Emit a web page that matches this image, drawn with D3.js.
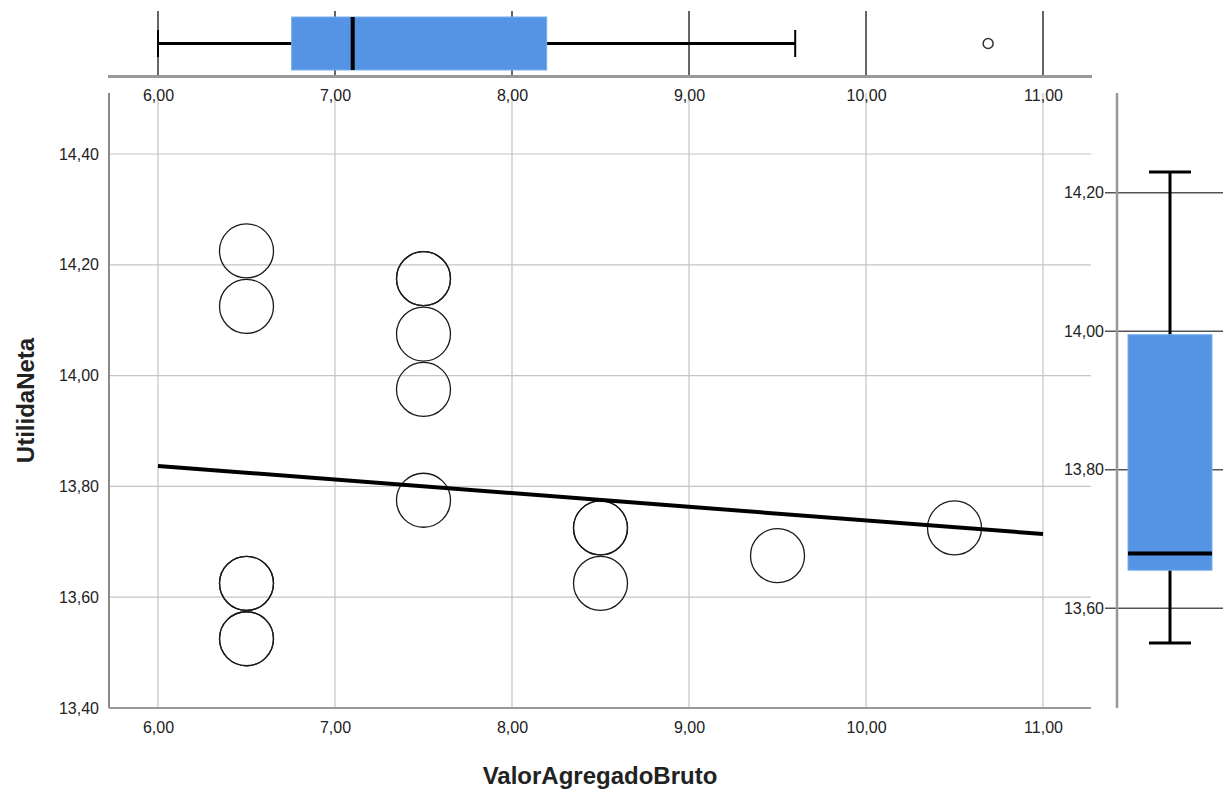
<!DOCTYPE html>
<html>
  <head>
    <meta http-equiv="Content-Type" content="text/html;charset=utf-8"/>
    <title>Scatter with marginal boxplots</title>
    <script src="https://d3js.org/d3.v7.min.js"></script>
    <style>
      body { margin: 0; background: #fff; }
      text { font-family: "Liberation Sans", Arial, sans-serif; }
    </style>
  </head>
  <body>
    <script type="text/javascript">

        // scatter points (ValorAgregadoBruto, UtilidaNeta)
        const xVals = [6.5, 6.5, 6.5, 6.5, 6.5, 6.5,
                       7.5, 7.5, 7.5, 7.5, 7.5,
                       8.5, 8.5, 8.5,
                       9.5, 10.5]
        const yVals = [14.225, 14.125, 13.625, 13.625, 13.525, 13.525,
                       14.175, 14.175, 14.075, 13.975, 13.775,
                       13.725, 13.725, 13.625,
                       13.675, 13.725]

        // fit line end points
        const fitX = [6, 11]
        const fitY = [13.837, 13.714]

        // boxplots: [whisker low, q1, median, q3, whisker high]
        const topBox = [6.0, 6.755, 7.1, 8.196, 9.6]
        const topOutliers = [10.69]
        const rightBox = [13.55, 13.655, 13.679, 13.995, 14.23]

        const xTicks = [6, 7, 8, 9, 10, 11]
        const yTicks = [13.4, 13.6, 13.8, 14.0, 14.2, 14.4]
        const rightTicks = [13.6, 13.8, 14.0, 14.2]

        const xTitle = 'ValorAgregadoBruto'
        const yTitle = 'UtilidaNeta'

        const width = 1223,
            height = 791

        const fmt = v => d3.format('.2f')(v).replace('.', ',')

        const svg = d3.select('body').append('svg')
            .attr('width', width)
            .attr('height', height)

        const plotL = 109, plotR = 1091, plotT = 93, plotB = 708

        const x = d3.scaleLinear().domain([6, 11]).range([158, 1043])
        const y = d3.scaleLinear().domain([13.4, 14.4]).range([708, 154])
        const yR = d3.scaleLinear().domain([13.6, 14.2]).range([608.3, 192.7])

        // ---- main plot grid
        svg.append('g').selectAll('line')
            .data(xTicks)
            .enter().append('line')
            .attr('x1', d => x(d)).attr('x2', d => x(d))
            .attr('y1', plotT).attr('y2', plotB)
            .attr('stroke', '#c4c4c4')
            .attr('stroke-width', 1.2)

        svg.append('g').selectAll('line')
            .data(yTicks.filter(d => d > 13.4))
            .enter().append('line')
            .attr('x1', plotL).attr('x2', plotR)
            .attr('y1', d => y(d)).attr('y2', d => y(d))
            .attr('stroke', '#c4c4c4')
            .attr('stroke-width', 1.2)

        // axis lines
        svg.append('line')
            .attr('x1', plotL).attr('x2', plotL)
            .attr('y1', plotT).attr('y2', plotB)
            .attr('stroke', '#8a8a8a').attr('stroke-width', 2)
        svg.append('line')
            .attr('x1', plotL).attr('x2', plotR)
            .attr('y1', plotB).attr('y2', plotB)
            .attr('stroke', '#999').attr('stroke-width', 2)

        // tick labels
        const xAxis = svg.append('g')
            .attr('transform', `translate(0,${plotB})`)
            .call(d3.axisBottom(x).tickValues(xTicks).tickFormat(fmt).tickSize(0).tickPadding(14))
        xAxis.select('.domain').remove()

        const yAxis = svg.append('g')
            .attr('transform', `translate(${plotL - 10},0)`)
            .call(d3.axisLeft(y).tickValues(yTicks).tickFormat(fmt).tickSize(0).tickPadding(0))
        yAxis.select('.domain').remove()

        svg.selectAll('.tick text')
            .style('font-size', '16px')
            .attr('fill', '#222')

        // points
        svg.append('g').selectAll('circle')
            .data(xVals.map((v, i) => [v, yVals[i]]))
            .enter().append('circle')
            .attr('cx', d => x(d[0]))
            .attr('cy', d => y(d[1]))
            .attr('r', 27)
            .attr('fill', 'none')
            .attr('stroke', '#1a1a1a')
            .attr('stroke-width', 1.3)

        // fit line
        svg.append('path')
            .datum(fitX.map((v, i) => [v, fitY[i]]))
            .attr('d', d3.line().x(d => x(d[0])).y(d => y(d[1])))
            .attr('stroke', '#000')
            .attr('stroke-width', 4)
            .attr('fill', 'none')

        // axis titles
        svg.append('text')
            .attr('x', (plotL + plotR) / 2)
            .attr('y', 784)
            .attr('text-anchor', 'middle')
            .style('font-size', '24px')
            .style('font-weight', 'bold')
            .attr('fill', '#222')
            .text(xTitle)

        svg.append('text')
            .attr('transform', `translate(34,${(plotT + plotB) / 2}) rotate(-90)`)
            .attr('text-anchor', 'middle')
            .style('font-size', '24px')
            .style('font-weight', 'bold')
            .attr('fill', '#222')
            .text(yTitle)

        // ---- top boxplot
        const topY = 43.5, topBoxT = 17, topBoxB = 70, baseY = 76.5

        svg.append('g').selectAll('line')
            .data(xTicks)
            .enter().append('line')
            .attr('x1', d => x(d)).attr('x2', d => x(d))
            .attr('y1', 11).attr('y2', baseY)
            .attr('stroke', '#333')
            .attr('stroke-width', 1.5)

        const topAxis = svg.append('g')
            .attr('transform', `translate(0,${baseY})`)
            .call(d3.axisBottom(x).tickValues(xTicks).tickFormat(fmt).tickSize(0).tickPadding(13))
        topAxis.select('.domain').remove()
        topAxis.selectAll('text').style('font-size', '16px').attr('fill', '#222')

        svg.append('line')
            .attr('x1', 108).attr('x2', 1092)
            .attr('y1', baseY).attr('y2', baseY)
            .attr('stroke', '#999').attr('stroke-width', 3)

        svg.append('line')
            .attr('x1', x(topBox[0])).attr('x2', x(topBox[4]))
            .attr('y1', topY).attr('y2', topY)
            .attr('stroke', '#000').attr('stroke-width', 3)
        svg.append('g').selectAll('line')
            .data([topBox[0], topBox[4]])
            .enter().append('line')
            .attr('x1', d => x(d)).attr('x2', d => x(d))
            .attr('y1', 30).attr('y2', 57)
            .attr('stroke', '#000').attr('stroke-width', 2)

        svg.append('rect')
            .attr('x', x(topBox[1]))
            .attr('y', topBoxT)
            .attr('width', x(topBox[3]) - x(topBox[1]))
            .attr('height', topBoxB - topBoxT)
            .attr('fill', '#5594e4')
            .attr('stroke', '#7aaeee')
            .attr('stroke-width', 1)
        svg.append('line')
            .attr('x1', x(topBox[2])).attr('x2', x(topBox[2]))
            .attr('y1', topBoxT).attr('y2', topBoxB)
            .attr('stroke', '#000').attr('stroke-width', 4)

        svg.append('g').selectAll('circle')
            .data(topOutliers)
            .enter().append('circle')
            .attr('cx', d => x(d)).attr('cy', topY)
            .attr('r', 5)
            .attr('fill', 'none')
            .attr('stroke', '#333')
            .attr('stroke-width', 1.5)

        // ---- right boxplot
        const rAxisX = 1117, rCx = 1170, rBoxW = 84, rCapW = 42

        svg.append('g').selectAll('line')
            .data(rightTicks)
            .enter().append('line')
            .attr('x1', 1105).attr('x2', 1223)
            .attr('y1', d => yR(d)).attr('y2', d => yR(d))
            .attr('stroke', '#555')
            .attr('stroke-width', 1.5)

        svg.append('line')
            .attr('x1', rAxisX).attr('x2', rAxisX)
            .attr('y1', plotT).attr('y2', plotB)
            .attr('stroke', '#999').attr('stroke-width', 2.5)

        const rAxis = svg.append('g')
            .attr('transform', `translate(1105,0)`)
            .call(d3.axisLeft(yR).tickValues(rightTicks).tickFormat(fmt).tickSize(0).tickPadding(1))
        rAxis.select('.domain').remove()
        rAxis.selectAll('text').style('font-size', '16px').attr('fill', '#222')

        svg.append('line')
            .attr('x1', rCx).attr('x2', rCx)
            .attr('y1', yR(rightBox[0])).attr('y2', yR(rightBox[4]))
            .attr('stroke', '#000').attr('stroke-width', 3)
        svg.append('g').selectAll('line')
            .data([rightBox[0], rightBox[4]])
            .enter().append('line')
            .attr('x1', rCx - rCapW / 2).attr('x2', rCx + rCapW / 2)
            .attr('y1', d => yR(d)).attr('y2', d => yR(d))
            .attr('stroke', '#000').attr('stroke-width', 3)

        svg.append('rect')
            .attr('x', rCx - rBoxW / 2)
            .attr('y', yR(rightBox[3]))
            .attr('width', rBoxW)
            .attr('height', yR(rightBox[1]) - yR(rightBox[3]))
            .attr('fill', '#5594e4')
            .attr('stroke', '#7aaeee')
            .attr('stroke-width', 1)
        svg.append('line')
            .attr('x1', rCx - rBoxW / 2).attr('x2', rCx + rBoxW / 2)
            .attr('y1', yR(rightBox[2])).attr('y2', yR(rightBox[2]))
            .attr('stroke', '#000').attr('stroke-width', 4)

    </script>
  </body>
</html>
